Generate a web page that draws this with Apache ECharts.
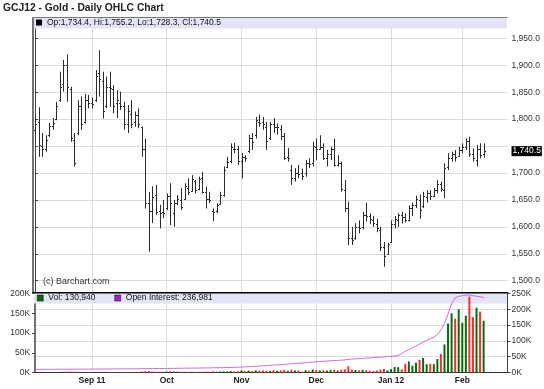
<!DOCTYPE html>
<html><head><meta charset="utf-8">
<script src="https://cdn.jsdelivr.net/npm/echarts@6/dist/echarts.min.js"></script>
<style>html,body{margin:0;padding:0;background:#fff}#c{width:544px;height:389px}</style>
</head><body><div id="c"></div>
<script>
const dates = [
'2011-08-10','2011-08-11','2011-08-12','2011-08-15','2011-08-16','2011-08-17','2011-08-18','2011-08-19','2011-08-22','2011-08-23','2011-08-24','2011-08-25','2011-08-26','2011-08-29','2011-08-30','2011-08-31',
'2011-09-01','2011-09-02','2011-09-06','2011-09-07','2011-09-08','2011-09-09','2011-09-12','2011-09-13','2011-09-14','2011-09-15','2011-09-16','2011-09-19','2011-09-20','2011-09-21','2011-09-22','2011-09-23','2011-09-26','2011-09-27','2011-09-28','2011-09-29','2011-09-30',
'2011-10-03','2011-10-04','2011-10-05','2011-10-06','2011-10-07','2011-10-10','2011-10-11','2011-10-12','2011-10-13','2011-10-14','2011-10-17','2011-10-18','2011-10-19','2011-10-20','2011-10-21','2011-10-24','2011-10-25','2011-10-26','2011-10-27','2011-10-28','2011-10-31',
'2011-11-01','2011-11-02','2011-11-03','2011-11-04','2011-11-07','2011-11-08','2011-11-09','2011-11-10','2011-11-11','2011-11-14','2011-11-15','2011-11-16','2011-11-17','2011-11-18','2011-11-21','2011-11-22','2011-11-23','2011-11-25','2011-11-28','2011-11-29','2011-11-30',
'2011-12-01','2011-12-02','2011-12-05','2011-12-06','2011-12-07','2011-12-08','2011-12-09','2011-12-12','2011-12-13','2011-12-14','2011-12-15','2011-12-16','2011-12-19','2011-12-20','2011-12-21','2011-12-22','2011-12-23','2011-12-27','2011-12-28','2011-12-29','2011-12-30',
'2012-01-03','2012-01-04','2012-01-05','2012-01-06','2012-01-09','2012-01-10','2012-01-11','2012-01-12','2012-01-13','2012-01-17','2012-01-18','2012-01-19','2012-01-20','2012-01-23','2012-01-24','2012-01-25','2012-01-26','2012-01-27','2012-01-30','2012-01-31',
'2012-02-01','2012-02-02','2012-02-03','2012-02-06','2012-02-07','2012-02-08','2012-02-09'];

const opens = [1780,1795,1750,1745,1770,1787,1800,1835,1865,1900,
1855,1762,1775,1825,1795,1835,1830,1835,1885,1870,
1825,1860,1855,1830,1830,1825,1790,1810,1795,1808,
1785,1745,1645,1630,1660,1630,1628,1635,1658,1625,
1645,1650,1652,1672,1667,1685,1670,1690,1665,1652,
1630,1630,1642,1660,1712,1722,1745,1745,1722,1730,
1740,1765,1770,1795,1795,1785,1765,1790,1785,1782,
1768,1730,1705,1690,1700,1700,1700,1718,1718,1748,
1745,1748,1728,1735,1745,1715,1718,1668,1635,1580,
1580,1600,1600,1622,1620,1612,1605,1595,1562,1550,
1572,1605,1612,1622,1618,1612,1635,1640,1650,1638,
1655,1662,1658,1668,1680,1668,1712,1728,1735,1732,
1742,1748,1760,1735,1725,1745,1734.4];

const highs = [1804,1822,1774,1770,1793,1802,1832,1888,1910,1920,
1860,1774,1835,1842,1847,1845,1840,1891,1928,1888,
1879,1888,1863,1854,1851,1832,1826,1835,1814,1820,
1786,1764,1665,1675,1678,1641,1650,1662,1681,1650,
1659,1672,1681,1690,1696,1687,1693,1702,1675,1665,
1634,1644,1665,1712,1730,1755,1756,1750,1737,1733,
1771,1774,1804,1808,1804,1795,1795,1802,1792,1789,
1774,1746,1715,1709,1715,1708,1724,1727,1758,1764,
1770,1755,1743,1749,1764,1733,1721,1687,1647,1600,
1607,1612,1628,1645,1625,1620,1615,1600,1572,1570,
1612,1620,1625,1628,1625,1640,1645,1658,1660,1665,
1668,1668,1672,1687,1684,1718,1736.5,1739.5,1742.6,1748.8,
1755,1764.3,1767.3,1745.8,1752,1755,1755.2];

const lows = [1764,1730,1730,1739.5,1767,1780,1798,1832,1851,1832,
1758,1712,1770,1780,1792,1820,1820,1832,1842,1801,
1820,1823,1811,1802,1817,1780,1774,1783,1786,1783,
1730,1634,1554,1607,1622,1597,1616,1631,1603,1600,
1640,1631,1650,1659,1665,1662,1668,1662,1634,1644,
1610,1625,1641,1656,1709,1718,1737,1715,1690,1721,
1737,1743,1764,1786,1780,1743,1761,1774,1771,1761,
1724,1721,1678,1684,1690,1687,1693,1709,1712,1724,
1743,1724,1712,1724,1712,1712,1665,1628,1566,1566,
1576,1588,1595,1610,1605,1600,1590,1555,1526,1548,
1570,1597,1600,1606,1608,1610,1620,1635,1615,1635,
1645,1650,1655,1662,1665,1653,1705.5,1721,1721,1730,
1736.5,1742.6,1730,1721,1712,1727,1728.3];

const closes = [1790,1752,1745,1762,1787,1793,1825,1860,1900,1860,
1765,1718,1825,1790,1835,1830,1828,1880,1875,1815,
1860,1858,1825,1835,1825,1790,1815,1790,1808,1790,
1745,1645,1630,1655,1628,1625,1625,1658,1645,1645,
1652,1636,1675,1665,1688,1668,1688,1665,1652,1650,
1628,1640,1660,1705,1720,1748,1745,1722,1730,1727,
1765,1757,1798,1792,1790,1760,1790,1785,1785,1768,
1728,1728,1690,1700,1698,1695,1718,1716,1750,1745,
1748,1728,1735,1745,1715,1718,1670,1635,1580,1575,
1600,1598,1622,1620,1615,1608,1597,1562,1545,1568,
1605,1615,1622,1618,1612,1635,1640,1652,1632,1658,
1662,1658,1668,1680,1670,1710,1728,1735,1730,1742,
1748,1760,1735,1728,1745,1733,1740.5];

const volumes = [1200,1500,900,700,800,900,1400,1600,1900,2300,
2100,2000,1800,900,1100,1300,1200,1500,2000,1700,
1400,1200,1300,1100,1200,1100,1000,1200,1100,1600,
2500,3200,3800,2200,1900,1800,1700,2400,3600,2500,
2100,1800,1700,1900,1600,1500,1400,1900,2200,1800,
3300,2000,2400,3100,2800,3600,2600,3200,5200,3600,
4800,3900,5500,4700,5100,4400,4300,5900,4200,5300,
6400,4100,6900,5200,4800,2100,5600,4700,7600,6300,
5100,5900,4800,6200,7100,5000,6800,7900,15800,7400,
6300,5100,6900,5600,4400,3900,5200,7300,8800,5600,
8500,14000,13500,8000,22000,28000,17000,25000,32000,37000,
21000,22000,21000,34000,47000,71000,124000,150000,136000,160000,
126000,144000,192000,140000,164000,154000,130940];

const openInterest = [9800,9900,10000,10000,10100,10100,10200,10300,10300,10400,
10500,10500,10600,10600,10700,10800,10900,11000,11000,11100,
11200,11200,11300,11400,11500,11500,11600,11700,11800,11900,
12000,12200,12300,12400,12500,12600,12700,12900,13000,13100,
13300,13400,13500,13700,13800,14000,14100,14300,14500,14600,
14800,15000,15300,15500,15800,16100,16400,16800,17300,17800,
18400,19000,19700,20300,21000,21800,22600,23400,24200,25000,
25900,26700,27600,28400,29300,30100,31000,32000,33000,34000,
34800,35600,36300,37000,37700,38400,39100,39800,41500,42500,
43300,44000,44700,45400,46100,46800,47500,48300,49200,50100,
51000,52000,54000,60000,67000,72000,78000,84000,90000,96000,
102000,107000,112000,120000,135000,155000,185000,218000,236000,241000,
243000,244500,245500,243000,241500,239500,236981];

const priceTicks = [1500,1550,1600,1650,1700,1750,1800,1850,1900,1950];
const monthLabels = ['Sep 11','Oct','Nov','Dec','Jan 12','Feb'];
const monthStarts = ['2011-09-01','2011-10-03','2011-11-01','2011-12-01','2012-01-03','2012-02-01'];

const FONT = '"Liberation Sans", Arial, sans-serif';
const L = dates.length - 1;
const monthIdx = monthStarts.map(d => dates.indexOf(d));
const fmtPrice = v => Number(v).toLocaleString('en-US', {minimumFractionDigits: 1, maximumFractionDigits: 1});
const fmtInt = v => Number(v).toLocaleString('en-US');
const fmtK = v => (v / 1000) + 'K';
const isUp = i => i === 0 ? true : closes[i] >= closes[i - 1];
// the last-price box hides the tick label it would overlap
const priceLabels = priceTicks.filter(v => Math.abs(v - closes[L]) > 15);

const ohlcData = dates.map((d, i) => [i, opens[i], highs[i], lows[i], closes[i]]);
const closeData = dates.map((d, i) => [i, closes[i]]);
const volData = dates.map((d, i) => [i, volumes[i]]);
const oiData = dates.map((d, i) => [i, openInterest[i]]);

function renderOHLC(params, api) {
  const i = api.value(0);
  const pO = api.coord([i, api.value(1)]);
  const pH = api.coord([i, api.value(2)]);
  const pL = api.coord([i, api.value(3)]);
  const pC = api.coord([i, api.value(4)]);
  const px = Math.round(pO[0]);
  const x = px + 0.5;
  const yo = Math.round(pO[1]) + 0.5, yc = Math.round(pC[1]) + 0.5;
  const st = {stroke: '#2b2b2b', lineWidth: 1};
  return {type: 'group', children: [
    {type: 'line', shape: {x1: x, y1: pH[1], x2: x, y2: pL[1]}, style: st},
    {type: 'line', shape: {x1: px - 1, y1: yo, x2: px, y2: yo}, style: st},
    {type: 'line', shape: {x1: px + 1, y1: yc, x2: px + 2, y2: yc}, style: st}
  ]};
}

const gridLine = {show: true, lineStyle: {color: '#dcdcdc', width: 1}};
const axisText = {fontSize: 8.5, color: '#333', fontFamily: FONT};

const option = {
  animation: false,
  textStyle: {fontFamily: FONT},
  title: {text: 'GCJ12 - Gold - Daily OHLC Chart', left: 3, top: 3, padding: 0,
    textStyle: {fontSize: 10.3, fontWeight: 'bold', color: '#222', fontFamily: FONT}},
  grid: [
    {left: 33.2, right: 36.5, top: 18, height: 274.5},
    {left: 33.2, right: 36.5, top: 293.5, height: 79}
  ],
  xAxis: [
    {type: 'value', gridIndex: 0, min: -0.5, max: 132.7,
     axisLine: {show: true, onZero: false, lineStyle: {color: '#000', width: 2}},
     axisTick: {show: false, customValues: monthIdx},
     axisLabel: {show: false, customValues: monthIdx},
     splitLine: gridLine},
    {type: 'value', gridIndex: 1, min: -0.5, max: 132.7,
     axisLine: {show: true, onZero: false, lineStyle: {color: '#333', width: 1}},
     axisTick: {show: false, customValues: monthIdx},
     axisLabel: {customValues: monthIdx, formatter: v => monthLabels[monthIdx.indexOf(v)],
       fontWeight: 'bold', fontSize: 8.5, color: '#222', margin: 4, fontFamily: FONT},
     splitLine: gridLine}
  ],
  yAxis: [
    {type: 'value', gridIndex: 0, position: 'right', min: 1478.1, max: 1987.7,
     axisLine: {show: true, lineStyle: {color: '#444', width: 1}},
     axisTick: {show: true, length: 3, customValues: priceTicks, lineStyle: {color: '#444'}},
     axisLabel: Object.assign({customValues: priceLabels, formatter: fmtPrice, margin: 4}, axisText),
     splitLine: gridLine},
    {type: 'value', gridIndex: 0, position: 'left', min: 1478.1, max: 1987.7,
     axisLine: {show: true, lineStyle: {color: '#444', width: 1.5}},
     axisTick: {show: false}, axisLabel: {show: false}, splitLine: {show: false}},
    {type: 'value', gridIndex: 1, position: 'left', min: 0, max: 200000, interval: 50000,
     axisLine: {show: true, lineStyle: {color: '#444', width: 1.5}},
     axisTick: {show: true, length: 3, lineStyle: {color: '#444'}},
     axisLabel: Object.assign({formatter: fmtK, margin: 3}, axisText),
     splitLine: {show: false}},
    {type: 'value', gridIndex: 1, position: 'right', min: 0, max: 250000, interval: 50000,
     axisLine: {show: true, lineStyle: {color: '#444', width: 1}},
     axisTick: {show: true, length: 3, lineStyle: {color: '#444'}},
     axisLabel: Object.assign({formatter: fmtK, margin: 4}, axisText),
     splitLine: gridLine}
  ],
  legend: [
    {data: [{name: 'OHLC', icon: 'rect', itemStyle: {color: '#000'}}],
     left: 36, top: 18, padding: 0, itemWidth: 6, itemHeight: 6, selectedMode: false,
     textStyle: {fontSize: 8.5, color: '#111', fontFamily: FONT},
     formatter: () => 'Op:' + fmtPrice(opens[L]) + ', Hi:' + fmtPrice(highs[L]) + ', Lo:' + fmtPrice(lows[L]) + ', Cl:' + fmtPrice(closes[L])},
    {data: [
       {name: 'Vol', icon: 'rect', itemStyle: {color: '#0b6b0b', borderColor: '#000', borderWidth: 0.5}},
       {name: 'Open Interest', icon: 'rect', itemStyle: {color: '#a020d0', borderColor: '#000', borderWidth: 0.5}}],
     left: 37, top: 293.5, padding: 0, itemGap: 19, itemWidth: 6, itemHeight: 6, selectedMode: false,
     textStyle: {fontSize: 8.5, color: '#111', fontFamily: FONT},
     formatter: n => n === 'Vol' ? 'Vol: ' + fmtInt(volumes[L]) : 'Open Interest: ' + fmtInt(openInterest[L])}
  ],
  graphic: [
    {type: 'rect', z: 1, silent: true, shape: {x: 34, y: 18, width: 473, height: 10.5}, style: {fill: '#e4e4f8'}},
    {type: 'line', z: 1, silent: true, shape: {x1: 33, y1: 17.5, x2: 507.5, y2: 17.5}, style: {stroke: '#777', lineWidth: 1}},
    {type: 'rect', z: 1, silent: true, shape: {x: 34, y: 293.5, width: 473, height: 10}, style: {fill: '#e4e4f8'}},
    {type: 'text', z: 1, silent: true, left: 43, top: 277.5, style: {text: '(c) Barchart.com', fontSize: 9, fill: '#333', fontFamily: FONT}}
  ],
  series: [
    {type: 'custom', name: 'OHLC', xAxisIndex: 0, yAxisIndex: 0, data: ohlcData,
     encode: {x: 0, y: [1, 2, 3, 4]}, renderItem: renderOHLC, itemStyle: {color: '#000'}},
    {type: 'line', name: 'Last', xAxisIndex: 0, yAxisIndex: 0, data: closeData, silent: true, clip: false,
     showSymbol: false, symbol: 'none', lineStyle: {opacity: 0}, z: 5,
     markLine: {silent: true, symbol: 'none', animation: false, lineStyle: {opacity: 0},
       label: {show: true, position: 'end', formatter: () => fmtPrice(closes[L]), backgroundColor: '#000',
         color: '#fff', fontSize: 8.5, padding: [1, 1, 0, 1], distance: 4, fontFamily: FONT, opacity: 1},
       emphasis: {disabled: true},
       data: [{yAxis: closes[L]}]}},
    {type: 'bar', name: 'Vol', xAxisIndex: 1, yAxisIndex: 2, data: volData, barWidth: 2,
     itemStyle: {color: p => isUp(p.dataIndex) ? '#0b6b0b' : '#ff2a2a'}},
    {type: 'line', name: 'Open Interest', xAxisIndex: 1, yAxisIndex: 3, data: oiData,
     showSymbol: false, symbol: 'none', lineStyle: {color: '#c86be8', width: 1}, itemStyle: {color: '#a020d0'}}
  ]
};

const chart = echarts.init(document.getElementById('c'), null, {renderer: 'canvas'});
chart.setOption(option);
</script>
</body></html>
